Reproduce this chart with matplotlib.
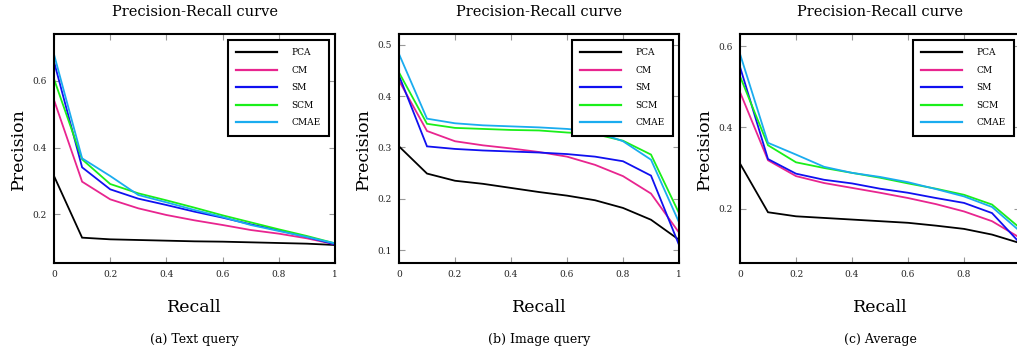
import matplotlib
matplotlib.use("Agg")
import matplotlib.pyplot as plt

recall = [0.0, 0.1, 0.2, 0.3, 0.4, 0.5, 0.6, 0.7, 0.8, 0.9, 1.0]
methods = ["PCA", "CM", "SM", "SCM", "CMAE"]
colors = ["#000000", "#e8258f", "#1010f0", "#1aef1a", "#1aacef"]

# (a) Text query
text_pca = [0.315, 0.130, 0.125, 0.123, 0.121, 0.119, 0.118, 0.116, 0.114, 0.112, 0.108]
text_cm = [0.543, 0.298, 0.245, 0.218, 0.198, 0.182, 0.168, 0.153, 0.142, 0.128, 0.110]
text_sm = [0.658, 0.341, 0.275, 0.247, 0.228, 0.208, 0.190, 0.170, 0.152, 0.132, 0.110]
text_scm = [0.606, 0.365, 0.291, 0.263, 0.242, 0.220, 0.197, 0.176, 0.155, 0.135, 0.113]
text_cmae = [0.680, 0.368, 0.315, 0.258, 0.236, 0.213, 0.192, 0.168, 0.150, 0.132, 0.113]

# (b) Image query
img_pca = [0.302, 0.249, 0.235, 0.229, 0.221, 0.213, 0.206, 0.197, 0.182, 0.159, 0.120]
img_cm = [0.430, 0.332, 0.312, 0.304, 0.298, 0.291, 0.282, 0.266, 0.244, 0.210, 0.134]
img_sm = [0.440, 0.302, 0.297, 0.294, 0.292, 0.290, 0.287, 0.282, 0.273, 0.245, 0.110]
img_scm = [0.446, 0.346, 0.338, 0.336, 0.334, 0.333, 0.329, 0.326, 0.313, 0.286, 0.172]
img_cmae = [0.482, 0.356, 0.347, 0.343, 0.341, 0.339, 0.336, 0.331, 0.312, 0.276, 0.154]

# (c) Average
avg_pca = [0.311, 0.191, 0.181, 0.177, 0.173, 0.169, 0.165, 0.158, 0.150, 0.136, 0.115]
avg_cm = [0.487, 0.319, 0.280, 0.263, 0.251, 0.239, 0.226, 0.211, 0.193, 0.169, 0.128]
avg_sm = [0.549, 0.322, 0.286, 0.271, 0.262, 0.249, 0.239, 0.226, 0.214, 0.189, 0.115]
avg_scm = [0.526, 0.356, 0.314, 0.300, 0.288, 0.276, 0.262, 0.249, 0.234, 0.210, 0.152]
avg_cmae = [0.581, 0.362, 0.333, 0.303, 0.288, 0.278, 0.265, 0.248, 0.230, 0.204, 0.144]

xticks = [0, 0.2, 0.4, 0.6, 0.8, 1.0]
xticklabels = ["0", "0.2", "0.4", "0.6", "0.8", "1"]

panels = [
    dict(series=[text_pca, text_cm, text_sm, text_scm, text_cmae],
         ylim=(0.054, 0.741), yticks=[0.2, 0.4, 0.6], caption="(a) Text query",
         box=(54, 335)),
    dict(series=[img_pca, img_cm, img_sm, img_scm, img_cmae],
         ylim=(0.0747, 0.521), yticks=[0.1, 0.2, 0.3, 0.4, 0.5], caption="(b) Image query",
         box=(399, 679)),
    dict(series=[avg_pca, avg_cm, avg_sm, avg_scm, avg_cmae],
         ylim=(0.066, 0.630), yticks=[0.2, 0.4, 0.6], caption="(c) Average",
         box=(740, 1020)),
]

W, H = 1017, 354
plt.rcParams["font.family"] = ["DejaVu Serif"]
fig = plt.figure(figsize=(W / 100, H / 100), dpi=100)

top_px, bot_px = 34, 263
for i, p in enumerate(panels):
    l, r = p["box"]
    ax = fig.add_axes([l / W, (H - bot_px) / H, (r - l) / W, (bot_px - top_px) / H])
    for name, c, ys in zip(methods, colors, p["series"]):
        ax.plot(recall, ys, color=c, lw=1.3, label=name, solid_joinstyle="miter")
    ax.set_xlim(0, 1)
    ax.set_ylim(*p["ylim"])
    ax.set_xticks(xticks)
    ax.set_xticklabels(xticklabels)
    ax.set_yticks(p["yticks"])
    ax.set_yticklabels([f"{v:g}" for v in p["yticks"]])
    ax.tick_params(direction="in", length=4, width=0.8, color="#999999",
                   top=True, right=True, labelsize=6.5, pad=5, labelcolor="#222222")
    if i == 2:
        ax.get_xticklabels()[-1].set_visible(False)
    for s in ax.spines.values():
        s.set_linewidth(1.5)
        s.set_color("black")
    cx = (l + r) / 2
    fig.text(cx / W, 1 - 12 / H, "Precision-Recall curve", ha="center", va="center", fontsize=10.5)
    fig.text(cx / W, 1 - 308 / H, "Recall", ha="center", va="center", fontsize=12.5)
    fig.text(cx / W, 1 - 340 / H, p["caption"], ha="center", va="center", fontsize=9)
    fig.text((l - 36) / W, 1 - 149 / H, "Precision", ha="center", va="center",
             fontsize=12.5, rotation=90)
    leg = ax.legend(loc="upper right", bbox_to_anchor=(1 - 6 / (r - l), 1 - 6 / (bot_px - top_px)),
                    borderaxespad=0, fontsize=6.5, handlelength=4.6, handletextpad=1.6,
                    labelspacing=0.95, borderpad=0.9, fancybox=False, framealpha=1,
                    edgecolor="black")
    leg.get_frame().set_linewidth(1.5)
    for line in leg.get_lines():
        line.set_linewidth(1.6)

fig.savefig("out.png", dpi=100)
